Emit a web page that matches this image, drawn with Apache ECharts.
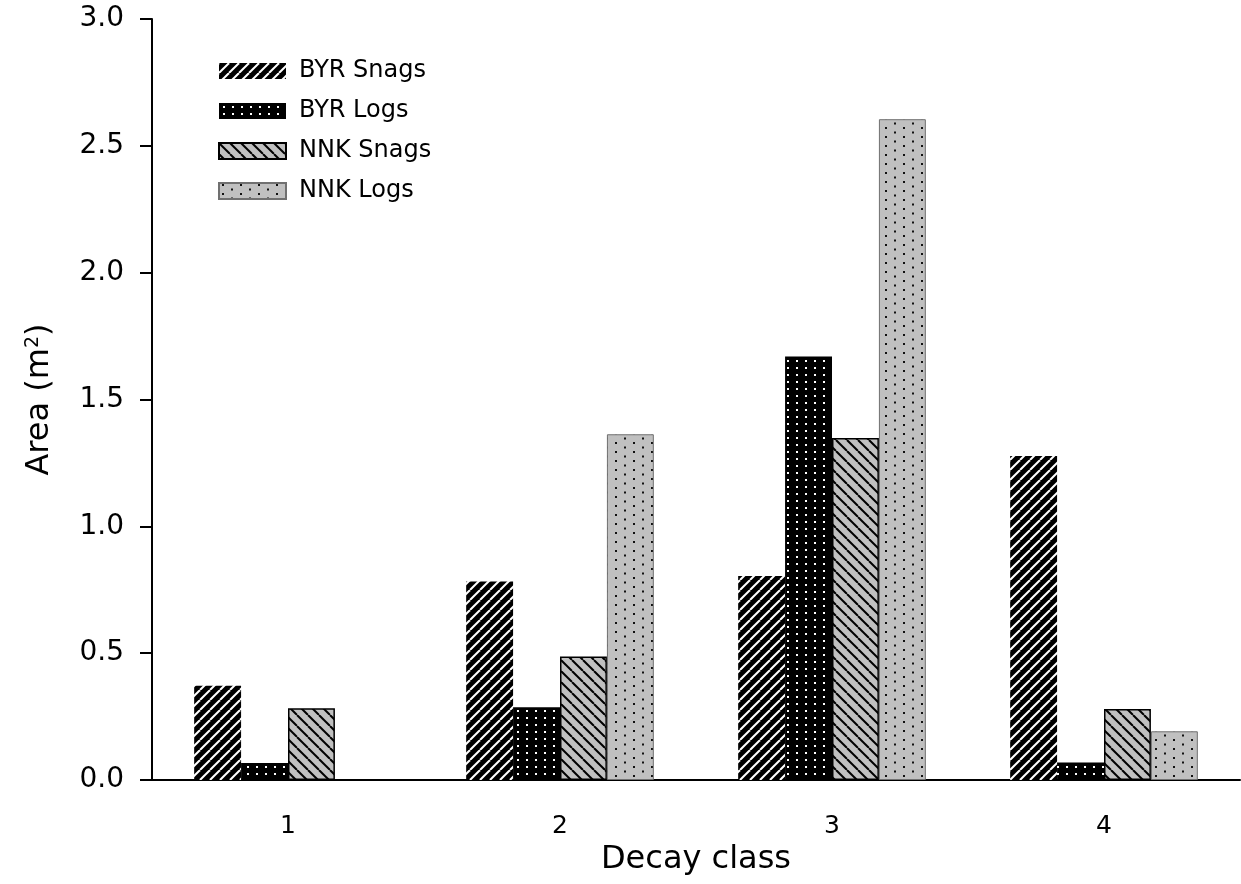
<!DOCTYPE html>
<html>
<head>
<meta charset="utf-8">
<title>Area by decay class</title>
<script src="https://cdn.jsdelivr.net/npm/echarts@6/dist/echarts.min.js"></script>
<style>
  html, body { margin: 0; padding: 0; background: #ffffff; }
  #chart { width: 1241px; height: 884px; }
</style>
</head>
<body>
<div id="chart"></div>
<script>
// Decay classes on the x axis
const categories = ['1', '2', '3', '4'];

// Area (m²) for each series, one value per decay class
const byrSnags = [0.372, 0.783, 0.804, 1.277];
const byrLogs  = [0.067, 0.287, 1.670, 0.069];
const nnkSnags = [0.283, 0.487, 1.348, 0.280];
const nnkLogs  = [0,     1.363, 2.605, 0.192];

const seriesNames = ['BYR Snags', 'BYR Logs', 'NNK Snags', 'NNK Logs'];

// Y axis range and step
const yMin = 0, yMax = 3, yStep = 0.5;

const FONT = 'DejaVu Sans';

// Build a repeating canvas tile used as a hatch / dot fill
function tile(w, h, bg, draw) {
  const c = document.createElement('canvas');
  c.width = w; c.height = h;
  const ctx = c.getContext('2d');
  ctx.fillStyle = bg;
  ctx.fillRect(0, 0, w, h);
  draw(ctx, w, h);
  return { image: c, repeat: 'repeat' };
}

// forward diagonal stripes ("/")
function fwdStripes(ctx, w, h, color, lw) {
  ctx.strokeStyle = color; ctx.lineWidth = lw;
  for (let k = -1; k <= 1; k++) {
    ctx.beginPath();
    ctx.moveTo(k * w, h);
    ctx.lineTo(k * w + w, 0);
    ctx.stroke();
  }
}
// backward diagonal stripes ("\")
function backStripes(ctx, w, h, color, lw) {
  ctx.strokeStyle = color; ctx.lineWidth = lw;
  for (let k = -1; k <= 1; k++) {
    ctx.beginPath();
    ctx.moveTo(k * w, 0);
    ctx.lineTo(k * w + w, h);
    ctx.stroke();
  }
}

const fillByrSnags = tile(10, 10, '#000000', (ctx, w, h) => fwdStripes(ctx, w, h, '#ffffff', 2));
const fillByrLogs = tile(9, 7, '#000000', (ctx) => {
  ctx.fillStyle = '#ffffff';
  ctx.fillRect(4, 3, 2, 2);
});
const fillNnkSnags = tile(11, 11, '#c0c0c0', (ctx, w, h) => backStripes(ctx, w, h, '#000000', 2));
const fillNnkLogs = tile(18, 9, '#c0c0c0', (ctx) => {
  ctx.fillStyle = '#111111';
  ctx.fillRect(3, 1, 2, 2);
  ctx.fillRect(12, 5.5, 2, 2);
});

function barSeries(name, values, fill, border, borderWidth) {
  return {
    name: name,
    type: 'bar',
    // a zero-height bar gets no outline
    data: values.map((v) => ({ value: v, itemStyle: { borderWidth: v === 0 ? 0 : borderWidth } })),
    barGap: '0%',
    barCategoryGap: '31%',
    itemStyle: {
      color: fill,
      borderColor: border,
      borderWidth: borderWidth
    },
    emphasis: { disabled: true },
    animation: false
  };
}

const chart = echarts.init(document.getElementById('chart'), null, { renderer: 'canvas' });

chart.setOption({
  backgroundColor: '#ffffff',
  animation: false,
  textStyle: { fontFamily: FONT, color: '#000000' },
  grid: { left: 152, right: 1, top: 19, bottom: 104, containLabel: false },
  legend: {
    orient: 'vertical',
    left: 213,
    top: 52,
    icon: 'rect',
    itemWidth: 67,
    itemHeight: 16,
    itemGap: 12,
    selectedMode: false,
    data: seriesNames,
    textStyle: { fontFamily: FONT, fontSize: 24, color: '#000000', lineHeight: 28, padding: [0, 0, 0, 8] }
  },
  xAxis: {
    type: 'category',
    data: categories,
    name: 'Decay class',
    nameLocation: 'middle',
    nameGap: 56,
    nameTextStyle: { fontFamily: FONT, fontSize: 32, color: '#000000' },
    axisLine: { lineStyle: { color: '#000000', width: 2 } },
    axisTick: { alignWithLabel: true, length: 13, lineStyle: { color: '#000000', width: 2 } },
    axisLabel: { fontFamily: FONT, fontSize: 25, color: '#000000', margin: 34 },
    splitLine: { show: false }
  },
  yAxis: {
    type: 'value',
    min: yMin,
    max: yMax,
    interval: yStep,
    name: 'Area (m{sup|2})',
    nameLocation: 'middle',
    nameRotate: 90,
    nameGap: 96,
    nameTextStyle: {
      fontFamily: FONT, fontSize: 32, color: '#000000',
      rich: { sup: { fontFamily: FONT, fontSize: 19, verticalAlign: 'top', lineHeight: 32, padding: [0, 0, 14, 0] } }
    },
    axisLine: { show: true, lineStyle: { color: '#000000', width: 2 } },
    axisTick: { show: true, length: 12, lineStyle: { color: '#000000', width: 2 } },
    axisLabel: {
      fontFamily: FONT, fontSize: 28, color: '#000000', margin: 28,
      formatter: (v) => v.toFixed(1)
    },
    splitLine: { show: false }
  },
  series: [
    barSeries(seriesNames[0], byrSnags, fillByrSnags, '#000000', 0),
    barSeries(seriesNames[1], byrLogs, fillByrLogs, '#000000', 0),
    barSeries(seriesNames[2], nnkSnags, fillNnkSnags, '#000000', 1.5),
    barSeries(seriesNames[3], nnkLogs, fillNnkLogs, '#707070', 1)
  ]
});
</script>
</body>
</html>
